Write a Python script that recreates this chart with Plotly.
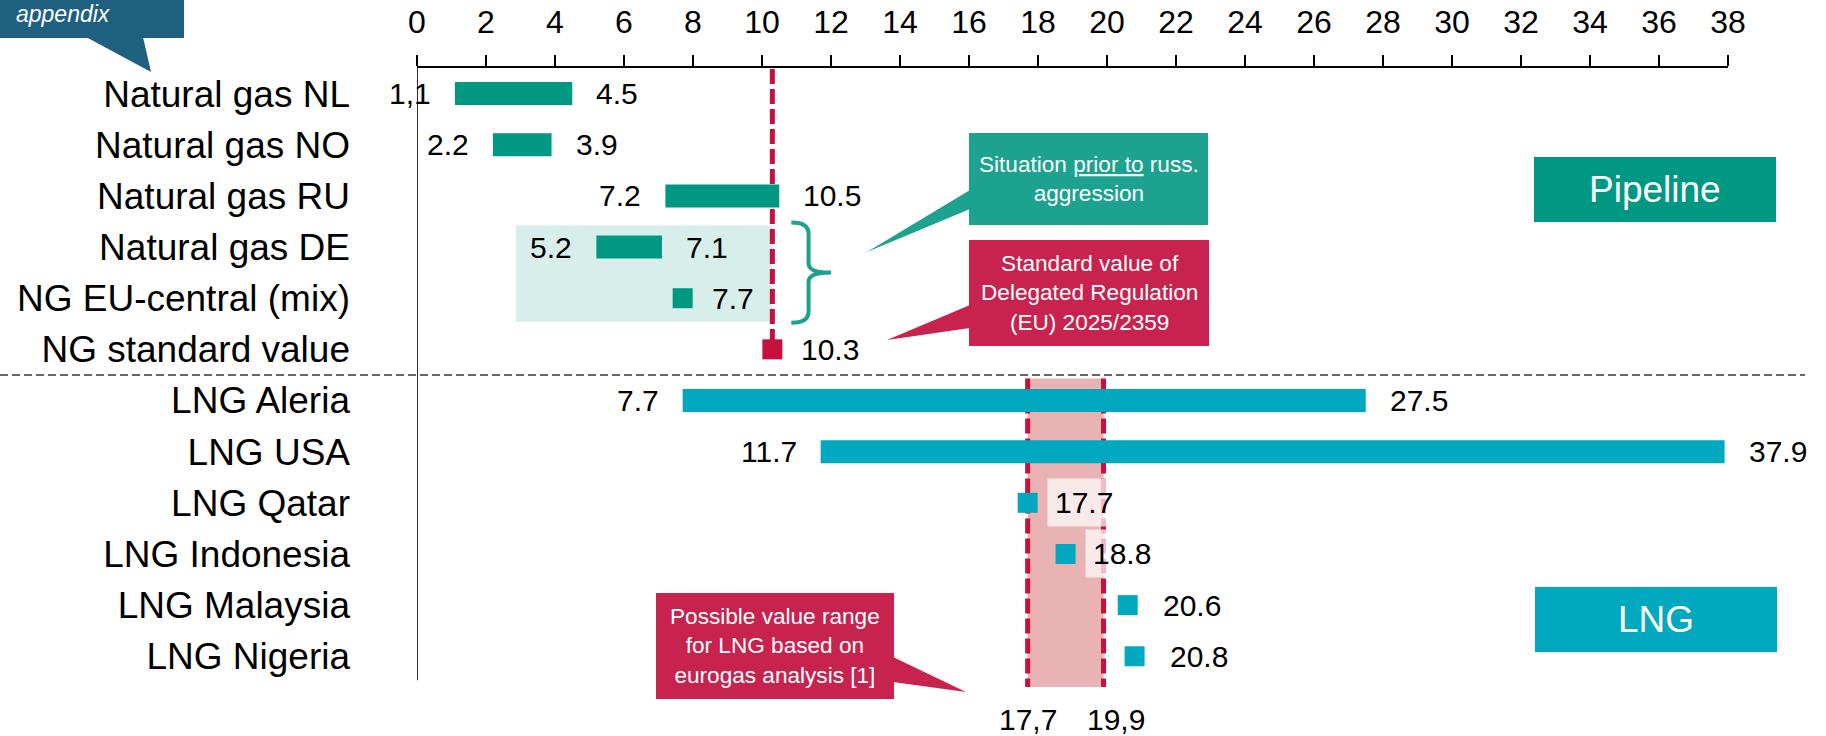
import plotly.graph_objects as go

# ---------------- data ----------------
categories = ["Natural gas NL", "Natural gas NO", "Natural gas RU", "Natural gas DE",
              "NG EU-central (mix)", "NG standard value",
              "LNG Aleria", "LNG USA", "LNG Qatar", "LNG Indonesia", "LNG Malaysia", "LNG Nigeria"]

pipe_range_cats = ["Natural gas NL", "Natural gas NO", "Natural gas RU", "Natural gas DE"]
pipe_low = [1.1, 2.2, 7.2, 5.2]
pipe_high = [4.5, 3.9, 10.5, 7.1]
pipe_low_text = ["1,1", "2.2", "7.2", "5.2"]
pipe_high_text = ["4.5", "3.9", "10.5", "7.1"]

pipe_point_cats = ["NG EU-central (mix)"]
pipe_point_vals = [7.7]
pipe_point_text = ["7.7"]

std_cats = ["NG standard value"]
std_vals = [10.3]
std_text = ["10.3"]

lng_range_cats = ["LNG Aleria", "LNG USA"]
lng_low = [7.7, 11.7]
lng_high = [27.5, 37.9]
lng_low_text = ["7.7", "11.7"]
lng_high_text = ["27.5", "37.9"]

lng_point_cats = ["LNG Qatar", "LNG Indonesia", "LNG Malaysia", "LNG Nigeria"]
lng_point_vals = [17.7, 18.8, 20.6, 20.8]
lng_point_text = ["17.7", "18.8", "20.6", "20.8"]

lng_band = [17.7, 19.9]
lng_band_text = ["17,7", "19,9"]

x_ticks = list(range(0, 39, 2))

# ---------------- style ----------------
FONT = "Arial, Liberation Sans, sans-serif"
TEAL = "#009882"
TEAL_CALLOUT = "#1CA28E"
TEAL_LIGHT = "#D7EEEA"
CYAN = "#00A8C0"
CRIMSON = "#C8103E"
CRIMSON_BOX = "#C8234F"
BAND = "#EAB3B3"
NAVY = "#1F5F80"
DASH = "15px,5px"

FIG_W, FIG_H = 1826, 736
L, R, T, B = 417, 98, 68, 48
W = FIG_W - L - R
H = FIG_H - T - B
Y_RANGE = [11.62, -0.5]


def PX(px):
    return (px - L) / W


def PY(py):
    return 1 - (py - T) / H


def row(c):
    return categories.index(c)


fig = go.Figure()

# range bars
fig.add_trace(go.Bar(orientation="h", y=[row(c) for c in pipe_range_cats],
                     base=pipe_low, x=[h - l for l, h in zip(pipe_low, pipe_high)],
                     width=0.45, marker=dict(color=TEAL, line_width=0), hoverinfo="skip"))
fig.add_trace(go.Bar(orientation="h", y=[row(c) for c in lng_range_cats],
                     base=lng_low, x=[h - l for l, h in zip(lng_low, lng_high)],
                     width=0.45, marker=dict(color=CYAN, line_width=0), hoverinfo="skip"))
# point markers
fig.add_trace(go.Scatter(x=pipe_point_vals, y=[row(c) for c in pipe_point_cats], mode="markers",
                         marker=dict(symbol="square", size=20, color=TEAL, line_width=0),
                         cliponaxis=False, hoverinfo="skip"))
fig.add_trace(go.Scatter(x=std_vals, y=[row(c) for c in std_cats], mode="markers",
                         marker=dict(symbol="square", size=20, color=CRIMSON, line_width=0),
                         cliponaxis=False, hoverinfo="skip"))
fig.add_trace(go.Scatter(x=lng_point_vals, y=[row(c) for c in lng_point_cats], mode="markers",
                         marker=dict(symbol="square", size=20, color=CYAN, line_width=0),
                         cliponaxis=False, hoverinfo="skip"))

ann = []
LBL = dict(family=FONT, size=30, color="black")

for cats, lows, highs, lt, ht in [(pipe_range_cats, pipe_low, pipe_high, pipe_low_text, pipe_high_text),
                                  (lng_range_cats, lng_low, lng_high, lng_low_text, lng_high_text)]:
    for c, lo, hi, a, b in zip(cats, lows, highs, lt, ht):
        ann.append(dict(x=lo, y=row(c), text=a, showarrow=False, xanchor="right", yanchor="middle",
                        xshift=-22, font=LBL))
        ann.append(dict(x=hi, y=row(c), text=b, showarrow=False, xanchor="left", yanchor="middle",
                        xshift=22, font=LBL))

for cats, vals, txt in [(pipe_point_cats, pipe_point_vals, pipe_point_text),
                        (std_cats, std_vals, std_text)]:
    for c, v, t in zip(cats, vals, txt):
        ann.append(dict(x=v, y=row(c), text=t, showarrow=False, xanchor="left", yanchor="middle",
                        xshift=27, font=LBL))

for c, v, t in zip(lng_point_cats, lng_point_vals, lng_point_text):
    inside = lng_band[0] <= v <= lng_band[1]
    ann.append(dict(x=v, y=row(c), text=t, showarrow=False, xanchor="left", yanchor="middle",
                    xshift=19 if inside else 27, font=LBL,
                    bgcolor="rgba(255,255,255,0.72)" if inside else None, borderpad=7))

# band edge labels
ann.append(dict(x=lng_band[0], y=PY(719), yref="paper", text=lng_band_text[0], showarrow=False,
                xanchor="center", yanchor="middle", font=LBL))
ann.append(dict(x=lng_band[1], y=PY(719), yref="paper", text=lng_band_text[1], showarrow=False,
                xanchor="center", yanchor="middle", xshift=12, font=LBL))

shapes = []
# light teal group box behind DE / EU-central
shapes.append(dict(type="rect", xref="x", yref="y", x0=2.87, x1=10.3,
                   y0=row("Natural gas DE") - 0.42, y1=row("NG EU-central (mix)") + 0.46,
                   fillcolor=TEAL_LIGHT, line_width=0, layer="below"))
# LNG band
shapes.append(dict(type="rect", xref="x", yref="y", x0=lng_band[0], x1=lng_band[1],
                   y0=5.57, y1=11.6, fillcolor=BAND, line_width=0, layer="below"))
for xv in lng_band:
    shapes.append(dict(type="line", xref="x", yref="y", x0=xv, x1=xv, y0=5.57, y1=11.6,
                       line=dict(color=CRIMSON, width=5, dash=DASH), layer="below"))
# standard value dashed line
shapes.append(dict(type="line", xref="x", yref="y", x0=std_vals[0], x1=std_vals[0],
                   y0=-0.48, y1=row("NG standard value"),
                   line=dict(color=CRIMSON, width=5, dash=DASH), layer="below"))
# y axis line
shapes.append(dict(type="line", xref="x", yref="y", x0=0, x1=0, y0=-0.5, y1=11.47,
                   line=dict(color="black", width=1.6), layer="below"))
# separator
shapes.append(dict(type="line", xref="paper", yref="y", x0=PX(0), x1=PX(1805), y0=5.5, y1=5.5,
                   line=dict(color="#666666", width=2, dash="8px,4px"), layer="below"))
# brace
y_a = row("Natural gas DE") - 0.48
y_b = row("NG EU-central (mix)") + 0.48
y_m = (y_a + y_b) / 2
shapes.append(dict(type="path", xref="x", yref="y",
                   path=(f"M 10.85,{y_a} Q 11.35,{y_a} 11.35,{y_a + 0.22} L 11.35,{y_m - 0.18} "
                         f"Q 11.35,{y_m} 12.0,{y_m} Q 11.35,{y_m} 11.35,{y_m + 0.18} "
                         f"L 11.35,{y_b - 0.22} Q 11.35,{y_b} 10.85,{y_b}"),
                   line=dict(color=TEAL_CALLOUT, width=4)))


def callout(x0, y0, x1, y1, color, tail, text, size, tx=None, ty=None, italic=False):
    shapes.append(dict(type="rect", xref="paper", yref="paper", x0=PX(x0), x1=PX(x1),
                       y0=PY(y1), y1=PY(y0), fillcolor=color, line_width=0))
    if tail:
        p = "M " + " L ".join(f"{PX(a)},{PY(b)}" for a, b in tail) + " Z"
        shapes.append(dict(type="path", xref="paper", yref="paper", path=p,
                           fillcolor=color, line_width=0))
    tx = (x0 + x1) / 2 if tx is None else tx
    ty = (y0 + y1) / 2 if ty is None else ty
    ann.append(dict(x=PX(tx), y=PY(ty), xref="paper", yref="paper",
                    text=text, showarrow=False, xanchor="center", yanchor="middle",
                    font=dict(family=FONT, size=size, color="white",
                              style="italic" if italic else "normal")))


callout(969, 133, 1208, 225, TEAL_CALLOUT, [(970, 190), (970, 209), (867, 252)],
        "Situation <u>prior to</u> russ.<br>aggression", 22.6)
callout(969, 240, 1209, 346, CRIMSON_BOX, [(970, 305), (970, 328), (887, 340)],
        "Standard value of<br>Delegated Regulation<br>(EU) 2025/2359", 22.6)
callout(656, 593, 894, 699, CRIMSON_BOX, [(893, 657), (893, 682), (966, 692)],
        "Possible value range<br>for LNG based on<br>eurogas analysis [1]", 22.6)
callout(1534, 157, 1776, 222, TEAL, None, "Pipeline", 37)
callout(1535, 587, 1777, 652, CYAN, None, "LNG", 37)
callout(0, 0, 184, 38, NAVY, [(86, 37), (143, 37), (151, 72)], "appendix", 23,
        tx=63, ty=14, italic=True)

fig.update_layout(
    width=FIG_W, height=FIG_H,
    margin=dict(l=L, r=R, t=T, b=B, pad=0),
    paper_bgcolor="white", plot_bgcolor="white",
    showlegend=False, barmode="overlay",
    font=dict(family=FONT, color="black"),
    shapes=shapes, annotations=ann,
    xaxis=dict(side="top", range=[0, 38], tickvals=x_ticks, ticktext=[str(v) for v in x_ticks],
               showgrid=False, zeroline=False, showline=True, linecolor="black", linewidth=2,
               ticks="outside", ticklen=11, tickwidth=2, tickcolor="black",
               ticklabelstandoff=9, automargin=False,
               tickfont=dict(family=FONT, size=32, color="black"), fixedrange=True),
    yaxis=dict(range=Y_RANGE, tickvals=list(range(len(categories))), ticktext=categories,
               showgrid=False, zeroline=False, showline=False, ticks="",
               ticklabelstandoff=66, automargin=False,
               tickfont=dict(family=FONT, size=37, color="black"), fixedrange=True),
)

fig.write_html("out.html", post_script="document.body.style.margin='0';",
               config={"displayModeBar": False})
